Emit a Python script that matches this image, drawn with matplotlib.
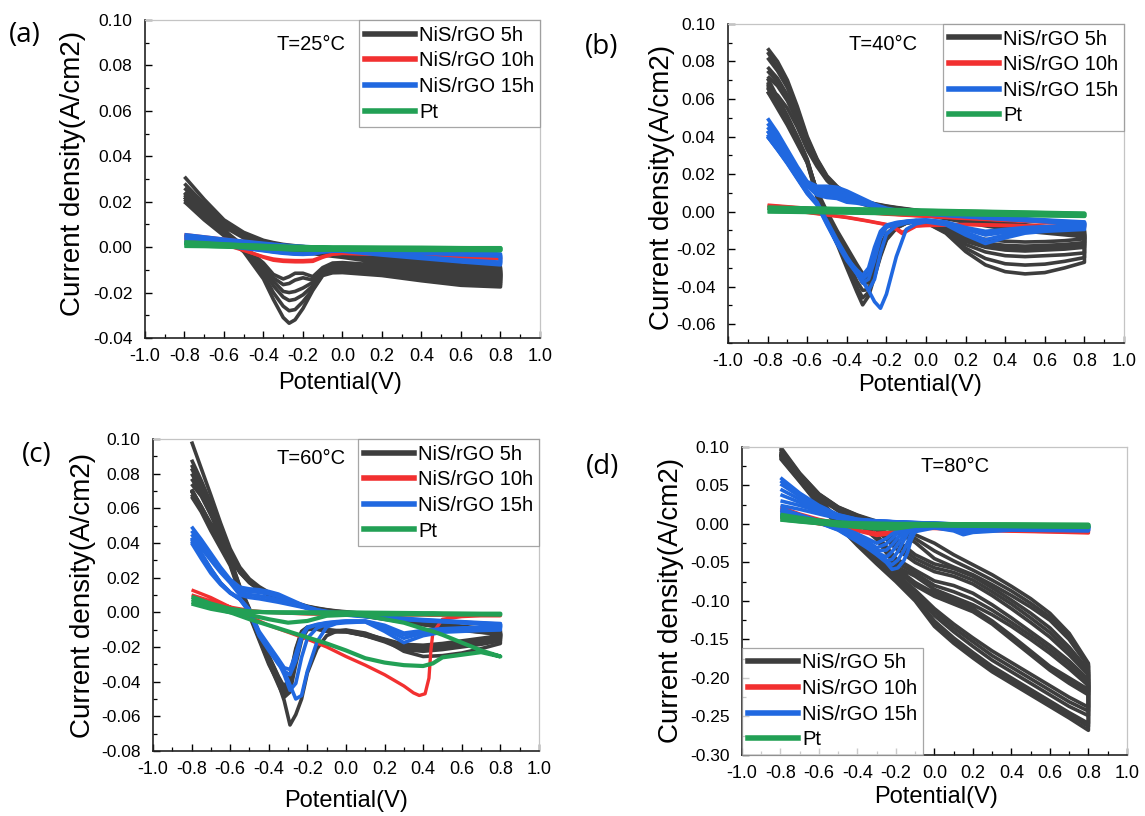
import matplotlib
matplotlib.use("Agg")
import matplotlib.pyplot as plt
from matplotlib.lines import Line2D
from matplotlib.ticker import MultipleLocator, FormatStrFormatter

plt.rcParams['font.family'] = ['Liberation Sans', 'DejaVu Sans']
plt.rcParams['axes.unicode_minus'] = False

# ------------------------------------------------------------------
# CV loops: each cycle = forward sweep (up) and reverse sweep (dn),
# both sampled on the potential grid of that series (V vs A/cm2)
# ------------------------------------------------------------------

# ---- (a) T = 25 C ----
a_x = [-0.8, -0.7, -0.6, -0.5, -0.4, -0.35, -0.3, -0.27, -0.24, -0.2, -0.15, -0.1, -0.05, 0.0, 0.2, 0.4, 0.6, 0.8]
a_dark_up = [
    [0.031, 0.021, 0.012, 0.0065, 0.003, 0.002, 0.0012, 0.0009, 0.0006, 0.0003, -0.0003, -0.001, -0.0015, -0.002, -0.004, -0.006, -0.0078, -0.0088],
    [0.028, 0.019, 0.011, 0.006, 0.0025, 0.0015, 0.0008, 0.0005, 0.0002, -0.0002, -0.0008, -0.0015, -0.002, -0.0025, -0.0048, -0.0068, -0.0085, -0.0095],
    [0.026, 0.018, 0.0105, 0.0055, 0.002, 0.001, 0.0003, 0.0, -0.0003, -0.0007, -0.0013, -0.002, -0.0025, -0.003, -0.0055, -0.0075, -0.0092, -0.0102],
    [0.024, 0.017, 0.010, 0.005, 0.0015, 0.0005, -0.0002, -0.0005, -0.0008, -0.0012, -0.0018, -0.0025, -0.003, -0.0035, -0.006, -0.008, -0.0098, -0.0108],
    [0.022, 0.016, 0.0095, 0.0045, 0.001, 0.0, -0.0007, -0.001, -0.0013, -0.0017, -0.0023, -0.003, -0.0035, -0.004, -0.0065, -0.0086, -0.0104, -0.0114],
    [0.020, 0.015, 0.009, 0.004, 0.0005, -0.0005, -0.0012, -0.0015, -0.0018, -0.0022, -0.0028, -0.0035, -0.004, -0.0045, -0.007, -0.0092, -0.011, -0.012],
]
a_dark_dn = [
    [0.020, 0.012, 0.005, -0.002, -0.014, -0.023, -0.031, -0.0335, -0.032, -0.027, -0.019, -0.0125, -0.0113, -0.0112, -0.0125, -0.0148, -0.0168, -0.0175],
    [0.021, 0.0125, 0.0055, -0.0015, -0.012, -0.020, -0.026, -0.028, -0.0275, -0.024, -0.0185, -0.012, -0.0105, -0.0103, -0.0115, -0.0138, -0.0158, -0.0166],
    [0.022, 0.013, 0.006, -0.001, -0.010, -0.017, -0.022, -0.0235, -0.023, -0.021, -0.017, -0.011, -0.0095, -0.0093, -0.0105, -0.0128, -0.0148, -0.0156],
    [0.022, 0.0135, 0.0065, -0.0005, -0.009, -0.015, -0.0195, -0.020, -0.0195, -0.018, -0.0155, -0.010, -0.0085, -0.0083, -0.0095, -0.0118, -0.0138, -0.0145],
    [0.023, 0.014, 0.007, 0.0, -0.008, -0.0135, -0.0165, -0.016, -0.0145, -0.0135, -0.0145, -0.0095, -0.0078, -0.0075, -0.0088, -0.011, -0.013, -0.0136],
    [0.024, 0.0145, 0.0075, 0.0005, -0.007, -0.012, -0.014, -0.013, -0.0115, -0.0115, -0.013, -0.009, -0.007, -0.0068, -0.008, -0.0102, -0.0122, -0.0128],
]
a_red_up = [
    [0.0055, 0.0045, 0.0035, 0.0025, 0.0015, 0.001, 0.0006, 0.0004, 0.0002, 0.0, -0.0003, -0.0006, -0.0009, -0.0012, -0.002, -0.003, -0.0038, -0.0045],
    [0.005, 0.0042, 0.0032, 0.0022, 0.0012, 0.0008, 0.0004, 0.0002, 0.0, -0.0002, -0.0005, -0.0008, -0.0011, -0.0014, -0.0022, -0.0032, -0.004, -0.0047],
]
a_red_dn = [
    [0.004, 0.003, 0.0015, -0.0012, -0.0045, -0.0058, -0.0063, -0.0064, -0.0065, -0.0065, -0.0063, -0.0045, -0.0032, -0.0028, -0.0032, -0.004, -0.0048, -0.0052],
    [0.0035, 0.0027, 0.0012, -0.0015, -0.0042, -0.0052, -0.0057, -0.0058, -0.0059, -0.0059, -0.0057, -0.0042, -0.003, -0.0027, -0.0031, -0.0039, -0.0046, -0.005],
]
a_blue_up = [
    [0.0055, 0.0045, 0.0035, 0.0026, 0.0017, 0.0013, 0.0009, 0.0007, 0.0005, 0.0003, 0.0001, -0.0001, -0.0003, -0.0005, -0.0012, -0.0018, -0.0024, -0.003],
    [0.0045, 0.0038, 0.003, 0.0022, 0.0014, 0.001, 0.0007, 0.0005, 0.0003, 0.0001, -0.0001, -0.0003, -0.0005, -0.0007, -0.0015, -0.0022, -0.003, -0.0036],
    [0.004, 0.0033, 0.0026, 0.0019, 0.0012, 0.0008, 0.0005, 0.0003, 0.0001, -0.0001, -0.0003, -0.0005, -0.0007, -0.0009, -0.0018, -0.0026, -0.0034, -0.004],
]
a_blue_dn = [
    [0.0025, 0.0018, 0.001, 0.0, -0.0012, -0.0018, -0.0023, -0.0026, -0.0028, -0.003, -0.0028, -0.0022, -0.0018, -0.0018, -0.0035, -0.005, -0.0065, -0.0078],
    [0.002, 0.0014, 0.0007, -0.0003, -0.0014, -0.002, -0.0025, -0.0027, -0.0029, -0.003, -0.0027, -0.0015, -0.0008, -0.0008, -0.003, -0.0045, -0.006, -0.0072],
    [0.0018, 0.0012, 0.0005, -0.0005, -0.0016, -0.0022, -0.0027, -0.0029, -0.0031, -0.0032, -0.003, -0.002, -0.0012, -0.001, -0.0028, -0.0042, -0.0056, -0.0066],
]
a_green_up = [
    [0.0022, 0.0018, 0.0013, 0.0009, 0.0006, 0.0004, 0.0003, 0.0002, 0.0002, 0.0001, 0.0, 0.0, -0.0001, -0.0001, -0.0002, -0.0003, -0.0004, -0.0004],
    [0.0018, 0.0015, 0.0011, 0.0008, 0.0005, 0.0003, 0.0002, 0.0001, 0.0, 0.0, -0.0001, -0.0001, -0.0002, -0.0002, -0.0003, -0.0003, -0.0004, -0.0005],
]
a_green_dn = [
    [0.0008, 0.0006, 0.0003, 0.0, -0.0004, -0.0006, -0.0008, -0.0009, -0.001, -0.001, -0.0011, -0.0011, -0.0011, -0.0011, -0.0011, -0.0012, -0.0012, -0.0012],
    [0.0005, 0.0004, 0.0002, -0.0001, -0.0005, -0.0007, -0.0009, -0.001, -0.0011, -0.0011, -0.0012, -0.0012, -0.0012, -0.0012, -0.0012, -0.0013, -0.0013, -0.0014],
]

# ---- (b) T = 40 C ----
b_x = [-0.8, -0.75, -0.7, -0.65, -0.6, -0.55, -0.5, -0.45, -0.4, -0.35, -0.32, -0.29, -0.26, -0.23, -0.2, -0.15, -0.1, -0.05, 0.0, 0.1, 0.2, 0.3, 0.4, 0.5, 0.6, 0.7, 0.8]
b_dark_up = [
    [0.087, 0.080, 0.070, 0.056, 0.040, 0.028, 0.019, 0.0135, 0.0095, 0.007, 0.006, 0.005, 0.0042, 0.0036, 0.003, 0.0022, 0.0015, 0.0008, 0.0, -0.0015, -0.003, -0.0045, -0.006, -0.007, -0.008, -0.009, -0.010],
    [0.085, 0.077, 0.068, 0.0545, 0.039, 0.0275, 0.0185, 0.0132, 0.0092, 0.0068, 0.0058, 0.0048, 0.004, 0.0034, 0.0028, 0.002, 0.0013, 0.0006, -0.0002, -0.0018, -0.0033, -0.0048, -0.0064, -0.0075, -0.0085, -0.0095, -0.0105],
    [0.082, 0.075, 0.066, 0.053, 0.038, 0.027, 0.018, 0.013, 0.009, 0.0065, 0.0055, 0.0045, 0.0038, 0.0032, 0.0026, 0.0018, 0.0011, 0.0004, -0.0004, -0.002, -0.0036, -0.0052, -0.0068, -0.008, -0.009, -0.010, -0.011],
    [0.077, 0.071, 0.062, 0.050, 0.036, 0.026, 0.0175, 0.0125, 0.0085, 0.006, 0.005, 0.004, 0.0033, 0.0027, 0.0021, 0.0013, 0.0006, -0.0001, -0.0009, -0.0026, -0.0043, -0.006, -0.0076, -0.0088, -0.0098, -0.0108, -0.0118],
    [0.075, 0.069, 0.0605, 0.049, 0.0355, 0.0255, 0.0172, 0.0122, 0.0082, 0.0058, 0.0048, 0.0038, 0.003, 0.0025, 0.0019, 0.0011, 0.0004, -0.0003, -0.0011, -0.0029, -0.0046, -0.0064, -0.008, -0.0092, -0.0102, -0.0112, -0.0122],
    [0.072, 0.067, 0.059, 0.048, 0.035, 0.025, 0.017, 0.012, 0.008, 0.0055, 0.0045, 0.0035, 0.0028, 0.0022, 0.0016, 0.0008, 0.0001, -0.0006, -0.0014, -0.0032, -0.005, -0.0068, -0.0084, -0.0096, -0.0106, -0.0116, -0.0126],
    [0.066, 0.062, 0.055, 0.045, 0.033, 0.024, 0.0165, 0.0115, 0.0075, 0.005, 0.004, 0.003, 0.0023, 0.0017, 0.0011, 0.0003, -0.0004, -0.0011, -0.0019, -0.0038, -0.0057, -0.0076, -0.0092, -0.0104, -0.0114, -0.0124, -0.0134],
]
b_dark_dn = [
    [0.064, 0.055, 0.046, 0.036, 0.026, 0.0075, -0.005, -0.017, -0.030, -0.0426, -0.0497, -0.045, -0.0346, -0.024, -0.0151, -0.0089, -0.0062, -0.0053, -0.0059, -0.0115, -0.0213, -0.0284, -0.032, -0.0332, -0.0325, -0.030, -0.027],
    [0.066, 0.0565, 0.0475, 0.037, 0.0265, 0.008, -0.004, -0.0155, -0.028, -0.040, -0.046, -0.043, -0.034, -0.023, -0.0145, -0.0087, -0.0061, -0.0052, -0.0058, -0.011, -0.0195, -0.025, -0.0278, -0.0285, -0.028, -0.0265, -0.0245],
    [0.068, 0.058, 0.049, 0.038, 0.027, 0.009, -0.003, -0.014, -0.026, -0.037, -0.042, -0.0415, -0.033, -0.0225, -0.014, -0.0085, -0.006, -0.0052, -0.0058, -0.0105, -0.0175, -0.0215, -0.0235, -0.024, -0.0235, -0.023, -0.022],
    [0.071, 0.061, 0.051, 0.040, 0.028, 0.010, -0.002, -0.012, -0.023, -0.033, -0.038, -0.038, -0.031, -0.021, -0.0132, -0.008, -0.0058, -0.005, -0.0056, -0.0098, -0.0158, -0.019, -0.0205, -0.021, -0.0205, -0.020, -0.019],
    [0.069, 0.060, 0.0505, 0.0395, 0.0275, 0.0102, -0.0015, -0.0115, -0.022, -0.0315, -0.0365, -0.0365, -0.030, -0.020, -0.0128, -0.0078, -0.0057, -0.005, -0.0055, -0.0095, -0.015, -0.018, -0.019, -0.0197, -0.0192, -0.0187, -0.0178],
    [0.067, 0.059, 0.05, 0.039, 0.027, 0.0105, -0.001, -0.011, -0.021, -0.030, -0.035, -0.035, -0.029, -0.0195, -0.0125, -0.0077, -0.0056, -0.0049, -0.0055, -0.0092, -0.0142, -0.0168, -0.018, -0.0184, -0.018, -0.0175, -0.0165],
    [0.064, 0.057, 0.048, 0.038, 0.026, 0.011, 0.0, -0.010, -0.019, -0.028, -0.033, -0.033, -0.027, -0.018, -0.0118, -0.0074, -0.0054, -0.0048, -0.0054, -0.0088, -0.0128, -0.0148, -0.0158, -0.0162, -0.016, -0.0155, -0.0145],
]
b_blue_up = [
    [0.0497, 0.042, 0.033, 0.024, 0.016, 0.0135, 0.0135, 0.013, 0.011, 0.0085, 0.007, 0.0055, 0.004, 0.0028, 0.0018, 0.0008, 0.0002, -0.0002, -0.0006, -0.0012, -0.0018, -0.0025, -0.0032, -0.0038, -0.0044, -0.005, -0.0055],
    [0.047, 0.040, 0.031, 0.023, 0.015, 0.012, 0.012, 0.0115, 0.0095, 0.0075, 0.0062, 0.0048, 0.0035, 0.0025, 0.0015, 0.0006, 0.0, -0.0004, -0.0008, -0.0015, -0.0021, -0.0028, -0.0035, -0.0041, -0.0047, -0.0053, -0.0058],
    [0.045, 0.038, 0.030, 0.022, 0.0145, 0.011, 0.0105, 0.010, 0.008, 0.0065, 0.0055, 0.0042, 0.0031, 0.0021, 0.0012, 0.0004, -0.0002, -0.0006, -0.001, -0.0017, -0.0024, -0.0031, -0.0038, -0.0044, -0.005, -0.0056, -0.006],
    [0.043, 0.036, 0.029, 0.021, 0.014, 0.0098, 0.009, 0.0085, 0.0065, 0.0055, 0.0047, 0.0037, 0.0028, 0.0019, 0.001, 0.0002, -0.0004, -0.0008, -0.0012, -0.0019, -0.0026, -0.0033, -0.004, -0.0046, -0.0052, -0.0058, -0.0063],
    [0.041, 0.035, 0.028, 0.0205, 0.0135, 0.0088, 0.0075, 0.007, 0.005, 0.0045, 0.004, 0.0033, 0.0025, 0.0016, 0.0008, 0.0, -0.0006, -0.001, -0.0014, -0.0021, -0.0028, -0.0035, -0.0042, -0.0048, -0.0054, -0.006, -0.0065],
]
b_blue_dn = [
    [0.040, 0.033, 0.026, 0.018, 0.010, 0.004, -0.006, -0.017, -0.026, -0.033, -0.037, -0.042, -0.048, -0.0515, -0.044, -0.024, -0.0095, -0.0065, -0.0055, -0.007, -0.0125, -0.017, -0.014, -0.0115, -0.0105, -0.010, -0.0095],
    [0.043, 0.035, 0.027, 0.019, 0.011, 0.005, -0.005, -0.015, -0.024, -0.032, -0.037, -0.042, -0.036, -0.022, -0.012, -0.0075, -0.006, -0.0055, -0.005, -0.0065, -0.011, -0.015, -0.0125, -0.0105, -0.0098, -0.0093, -0.0088],
    [0.041, 0.034, 0.0265, 0.0185, 0.0105, 0.0045, -0.006, -0.016, -0.025, -0.033, -0.038, -0.036, -0.026, -0.014, -0.0085, -0.0062, -0.0055, -0.005, -0.0048, -0.006, -0.0095, -0.0125, -0.011, -0.0095, -0.009, -0.0085, -0.008],
    [0.040, 0.0335, 0.026, 0.018, 0.010, 0.004, -0.0065, -0.0165, -0.025, -0.032, -0.036, -0.033, -0.022, -0.012, -0.0078, -0.006, -0.0053, -0.0048, -0.0046, -0.0058, -0.009, -0.0115, -0.0102, -0.009, -0.0085, -0.008, -0.0075],
    [0.040, 0.033, 0.0255, 0.0175, 0.0095, 0.0035, -0.007, -0.017, -0.025, -0.031, -0.034, -0.030, -0.019, -0.0105, -0.0072, -0.0058, -0.0051, -0.0046, -0.0044, -0.0055, -0.0085, -0.0105, -0.0095, -0.0085, -0.008, -0.0075, -0.007],
]
b_red_x = [-0.8, -0.6, -0.4, -0.3, -0.2, -0.15, -0.12, -0.08, -0.05, 0.0, 0.2, 0.4, 0.6, 0.8]
b_red_up = [
    [0.0035, 0.0018, 0.0002, -0.0004, -0.0012, -0.0015, -0.0017, -0.0019, -0.0021, -0.0024, -0.0035, -0.0045, -0.0055, -0.0065],
    [0.0032, 0.0016, 0.0, -0.0006, -0.0014, -0.0017, -0.0019, -0.0021, -0.0023, -0.0026, -0.0037, -0.0047, -0.0057, -0.0067],
]
b_red_dn = [
    [0.002, -0.0003, -0.003, -0.0048, -0.0068, -0.0095, -0.0118, -0.0095, -0.0078, -0.0075, -0.007, -0.0075, -0.008, -0.0085],
    [0.0018, -0.0005, -0.0032, -0.005, -0.007, -0.009, -0.011, -0.009, -0.0075, -0.0072, -0.0068, -0.0072, -0.0077, -0.0082],
]
b_green_x = [-0.8, -0.4, 0.0, 0.4, 0.8]
b_green_up = [
    [0.0022, 0.0014, 0.0006, -0.0002, -0.001],
    [0.002, 0.0012, 0.0004, -0.0004, -0.0012],
]
b_green_dn = [
    [0.0, -0.0006, -0.0012, -0.0018, -0.0024],
    [0.0002, -0.0004, -0.001, -0.0016, -0.0022],
]

# ---- (c) T = 60 C ----
c_x = b_x
c_dark_up = [
    [0.0985, 0.083, 0.0675, 0.0515, 0.0367, 0.026, 0.0192, 0.0148, 0.0115, 0.0087, 0.0075, 0.0064, 0.0055, 0.0045, 0.0035, 0.0024, 0.0015, 0.0008, 0.0003, -0.0008, -0.002, -0.0035, -0.005, -0.0065, -0.008, -0.0092, -0.0105],
    [0.088, 0.076, 0.063, 0.049, 0.035, 0.025, 0.0185, 0.0142, 0.011, 0.0083, 0.0071, 0.006, 0.0051, 0.0042, 0.0033, 0.0022, 0.0013, 0.0006, 0.0, -0.0012, -0.0025, -0.004, -0.0056, -0.0072, -0.0088, -0.01, -0.0112],
    [0.085, 0.074, 0.061, 0.047, 0.034, 0.024, 0.018, 0.0138, 0.0106, 0.008, 0.0068, 0.0057, 0.0048, 0.0039, 0.003, 0.0019, 0.001, 0.0003, -0.0003, -0.0016, -0.003, -0.0046, -0.0062, -0.0078, -0.0094, -0.0106, -0.0118],
    [0.083, 0.072, 0.060, 0.0465, 0.0335, 0.0238, 0.0178, 0.0136, 0.0104, 0.0078, 0.0066, 0.0055, 0.0046, 0.0037, 0.0028, 0.0017, 0.0008, 0.0001, -0.0005, -0.0018, -0.0033, -0.0049, -0.0065, -0.0081, -0.0097, -0.0109, -0.0121],
    [0.080, 0.071, 0.059, 0.046, 0.033, 0.0235, 0.0175, 0.0134, 0.0102, 0.0077, 0.0065, 0.0054, 0.0045, 0.0036, 0.0027, 0.0016, 0.0007, 0.0, -0.0006, -0.002, -0.0035, -0.0051, -0.0067, -0.0083, -0.0099, -0.0111, -0.0123],
    [0.077, 0.069, 0.0575, 0.045, 0.0325, 0.0232, 0.0172, 0.0132, 0.01, 0.0076, 0.0063, 0.0052, 0.0043, 0.0034, 0.0025, 0.0014, 0.0005, -0.0002, -0.0008, -0.0022, -0.0038, -0.0054, -0.007, -0.0086, -0.0102, -0.0114, -0.0126],
    [0.074, 0.067, 0.056, 0.044, 0.032, 0.023, 0.017, 0.013, 0.0098, 0.0074, 0.0062, 0.0051, 0.0042, 0.0033, 0.0024, 0.0013, 0.0004, -0.0003, -0.0009, -0.0024, -0.004, -0.0056, -0.0072, -0.0088, -0.0104, -0.0116, -0.0128],
]
c_dark_dn = [
    [0.0667, 0.058, 0.047, 0.037, 0.027, 0.011, -0.002, -0.016, -0.030, -0.041, -0.051, -0.065, -0.059, -0.050, -0.035, -0.021, -0.0135, -0.011, -0.0102, -0.012, -0.016, -0.0225, -0.0255, -0.025, -0.0235, -0.021, -0.018],
    [0.068, 0.059, 0.048, 0.038, 0.028, 0.012, -0.001, -0.015, -0.029, -0.042, -0.049, -0.046, -0.030, -0.016, -0.010, -0.0095, -0.0105, -0.0108, -0.011, -0.0135, -0.017, -0.0215, -0.0225, -0.0215, -0.02, -0.0185, -0.0165],
    [0.070, 0.060, 0.049, 0.039, 0.029, 0.013, 0.0, -0.014, -0.027, -0.040, -0.047, -0.043, -0.026, -0.0135, -0.0095, -0.0098, -0.011, -0.0112, -0.0113, -0.0135, -0.0165, -0.0205, -0.021, -0.020, -0.0185, -0.017, -0.0155],
    [0.0705, 0.0605, 0.0495, 0.0395, 0.0295, 0.0135, 0.0005, -0.0135, -0.0265, -0.039, -0.046, -0.0415, -0.0245, -0.0128, -0.0092, -0.0096, -0.0108, -0.0111, -0.0112, -0.0132, -0.0162, -0.02, -0.0205, -0.0195, -0.018, -0.0165, -0.015],
    [0.071, 0.061, 0.050, 0.040, 0.030, 0.014, 0.001, -0.013, -0.026, -0.038, -0.045, -0.040, -0.023, -0.012, -0.009, -0.0095, -0.0105, -0.011, -0.011, -0.013, -0.016, -0.0195, -0.020, -0.019, -0.0175, -0.016, -0.0145],
    [0.0705, 0.061, 0.0505, 0.0405, 0.0305, 0.0145, 0.0015, -0.0125, -0.0255, -0.0375, -0.044, -0.0385, -0.022, -0.0115, -0.0088, -0.0092, -0.0102, -0.0108, -0.0108, -0.0128, -0.0158, -0.019, -0.0195, -0.0185, -0.017, -0.0155, -0.014],
    [0.070, 0.061, 0.051, 0.041, 0.031, 0.015, 0.002, -0.012, -0.025, -0.037, -0.043, -0.037, -0.021, -0.011, -0.0085, -0.009, -0.010, -0.0105, -0.0105, -0.0125, -0.0155, -0.0185, -0.019, -0.018, -0.0165, -0.015, -0.0135],
]
c_blue_up = [
    [0.0494, 0.042, 0.034, 0.026, 0.019, 0.0145, 0.0135, 0.013, 0.012, 0.0105, 0.009, 0.0075, 0.006, 0.0045, 0.0032, 0.0015, 0.0005, -0.0003, -0.001, -0.002, -0.0028, -0.0035, -0.0042, -0.0048, -0.0054, -0.006, -0.0065],
    [0.047, 0.040, 0.032, 0.025, 0.018, 0.013, 0.012, 0.0115, 0.0105, 0.009, 0.0078, 0.0065, 0.0053, 0.0041, 0.003, 0.0013, 0.0003, -0.0005, -0.0012, -0.0022, -0.003, -0.0038, -0.0045, -0.0051, -0.0057, -0.0063, -0.0068],
    [0.045, 0.038, 0.031, 0.024, 0.0175, 0.0115, 0.0102, 0.0095, 0.0085, 0.0072, 0.0063, 0.0053, 0.0044, 0.0035, 0.0026, 0.0011, 0.0001, -0.0007, -0.0014, -0.0024, -0.0032, -0.004, -0.0047, -0.0053, -0.0059, -0.0065, -0.007],
    [0.043, 0.037, 0.030, 0.023, 0.017, 0.010, 0.0085, 0.0078, 0.0068, 0.0058, 0.0051, 0.0044, 0.0037, 0.003, 0.0022, 0.0009, -0.0001, -0.0009, -0.0016, -0.0026, -0.0034, -0.0042, -0.0049, -0.0055, -0.0061, -0.0067, -0.0072],
]
c_blue_dn = [
    [0.040, 0.031, 0.0225, 0.016, 0.011, 0.0075, 0.0, -0.0135, -0.022, -0.030, -0.034, -0.042, -0.050, -0.048, -0.034, -0.017, -0.0085, -0.0065, -0.006, -0.0055, -0.011, -0.0175, -0.0135, -0.0115, -0.011, -0.0105, -0.0102],
    [0.043, 0.034, 0.025, 0.017, 0.0115, 0.0075, 0.0005, -0.013, -0.021, -0.029, -0.036, -0.045, -0.041, -0.026, -0.015, -0.009, -0.007, -0.006, -0.0055, -0.0055, -0.0095, -0.015, -0.012, -0.0105, -0.01, -0.0095, -0.0092],
    [0.042, 0.034, 0.025, 0.017, 0.0115, 0.0078, 0.001, -0.012, -0.020, -0.028, -0.034, -0.036, -0.028, -0.015, -0.009, -0.0072, -0.0062, -0.0056, -0.0052, -0.0052, -0.008, -0.013, -0.011, -0.0098, -0.0094, -0.009, -0.0087],
    [0.041, 0.033, 0.0245, 0.0168, 0.0112, 0.008, 0.0015, -0.011, -0.019, -0.027, -0.032, -0.033, -0.024, -0.013, -0.0085, -0.007, -0.006, -0.0054, -0.005, -0.005, -0.0075, -0.012, -0.0105, -0.0095, -0.009, -0.0087, -0.0083],
]
c_red_x = [-0.8, -0.7, -0.6, -0.5, -0.4, -0.3, -0.2, -0.1, 0.0, 0.1, 0.2, 0.3, 0.35, 0.38, 0.41, 0.43, 0.44, 0.45, 0.5, 0.6, 0.7, 0.8]
c_red_up = [
    [0.010, 0.0065, 0.003, 0.001, 0.0, -0.0005, -0.001, -0.0012, -0.0014, -0.0015, -0.0015, -0.0016, -0.0016, -0.0016, -0.0016, -0.0017, -0.0017, -0.0017, -0.0017, -0.0017, -0.0018, -0.0018],
]
c_red_dn = [
    [0.0129, 0.0085, 0.003, -0.0025, -0.0075, -0.0115, -0.0155, -0.020, -0.0255, -0.0305, -0.036, -0.0425, -0.0465, -0.048, -0.047, -0.038, -0.022, -0.012, -0.004, -0.0025, -0.002, -0.002],
]
c_green_x = [-0.8, -0.7, -0.6, -0.5, -0.4, -0.3, -0.2, -0.1, 0.0, 0.1, 0.2, 0.3, 0.4, 0.45, 0.5, 0.6, 0.7, 0.8]
c_green_up = [
    [0.009, 0.005, 0.002, 0.0005, 0.0, -0.0003, -0.0005, -0.0007, -0.001, -0.002, -0.004, -0.006, -0.0095, -0.011, -0.013, -0.0175, -0.022, -0.0255],
    [0.0075, 0.004, 0.0015, 0.0003, 0.0, 0.0, 0.0, 0.0, 0.0, -0.0002, -0.0003, -0.0004, -0.0005, -0.0005, -0.0006, -0.0007, -0.0008, -0.0008],
]
c_green_dn = [
    [0.006, 0.003, 0.0, -0.004, -0.0075, -0.011, -0.0145, -0.018, -0.022, -0.0265, -0.029, -0.0305, -0.031, -0.0295, -0.026, -0.0245, -0.023, -0.0255],
    [0.005, 0.002, 0.0, -0.0015, -0.004, -0.006, -0.005, -0.002, -0.0015, -0.0012, -0.0012, -0.0012, -0.0012, -0.0012, -0.0012, -0.0013, -0.0013, -0.0014],
]

# ---- (d) T = 80 C ----
d_x = [-0.8, -0.7, -0.6, -0.5, -0.4, -0.3, -0.2, -0.1, 0.0, 0.1, 0.2, 0.3, 0.4, 0.5, 0.6, 0.7, 0.8]
d_dark_up = [
    [0.100, 0.066, 0.039, 0.022, 0.0115, 0.0035, -0.005, -0.014, -0.025, -0.040, -0.053, -0.066, -0.081, -0.097, -0.116, -0.142, -0.181],
    [0.098, 0.065, 0.0385, 0.0215, 0.011, 0.002, -0.008, -0.019, -0.035, -0.048, -0.060, -0.073, -0.087, -0.103, -0.121, -0.146, -0.183],
    [0.097, 0.064, 0.038, 0.021, 0.010, 0.001, -0.010, -0.024, -0.045, -0.056, -0.066, -0.079, -0.093, -0.108, -0.125, -0.150, -0.185],
    [0.095, 0.063, 0.037, 0.020, 0.008, -0.003, -0.020, -0.040, -0.052, -0.058, -0.068, -0.083, -0.099, -0.116, -0.135, -0.160, -0.190],
    [0.094, 0.0625, 0.0365, 0.0195, 0.007, -0.005, -0.026, -0.045, -0.057, -0.063, -0.073, -0.088, -0.104, -0.122, -0.141, -0.165, -0.193],
    [0.093, 0.062, 0.036, 0.019, 0.006, -0.008, -0.032, -0.050, -0.062, -0.068, -0.078, -0.093, -0.110, -0.128, -0.147, -0.170, -0.196],
    [0.091, 0.061, 0.035, 0.018, 0.004, -0.014, -0.045, -0.060, -0.074, -0.080, -0.090, -0.105, -0.122, -0.140, -0.158, -0.178, -0.202],
    [0.090, 0.0605, 0.0345, 0.0175, 0.003, -0.017, -0.050, -0.064, -0.080, -0.088, -0.098, -0.112, -0.128, -0.145, -0.163, -0.183, -0.206],
    [0.089, 0.060, 0.034, 0.017, 0.002, -0.020, -0.055, -0.068, -0.085, -0.095, -0.105, -0.118, -0.133, -0.150, -0.168, -0.188, -0.210],
]
d_dark_dn = [
    [0.085, 0.055, 0.024, -0.002, -0.028, -0.052, -0.075, -0.100, -0.133, -0.155, -0.174, -0.192, -0.207, -0.222, -0.237, -0.252, -0.268],
    [0.086, 0.056, 0.025, -0.001, -0.026, -0.050, -0.073, -0.098, -0.129, -0.151, -0.170, -0.188, -0.203, -0.218, -0.233, -0.248, -0.263],
    [0.087, 0.057, 0.026, 0.0, -0.025, -0.049, -0.071, -0.095, -0.126, -0.148, -0.167, -0.185, -0.200, -0.215, -0.230, -0.245, -0.259],
    [0.088, 0.058, 0.028, 0.002, -0.023, -0.046, -0.068, -0.091, -0.119, -0.140, -0.159, -0.177, -0.192, -0.207, -0.222, -0.237, -0.249],
    [0.089, 0.059, 0.029, 0.003, -0.021, -0.044, -0.066, -0.088, -0.114, -0.135, -0.153, -0.171, -0.186, -0.201, -0.216, -0.231, -0.243],
    [0.090, 0.060, 0.030, 0.004, -0.020, -0.043, -0.064, -0.086, -0.110, -0.130, -0.148, -0.165, -0.180, -0.195, -0.210, -0.225, -0.238],
    [0.091, 0.061, 0.031, 0.005, -0.018, -0.040, -0.060, -0.080, -0.094, -0.104, -0.114, -0.130, -0.150, -0.170, -0.190, -0.207, -0.222],
    [0.0915, 0.0615, 0.0315, 0.0055, -0.017, -0.039, -0.058, -0.078, -0.092, -0.102, -0.112, -0.128, -0.148, -0.168, -0.188, -0.204, -0.218],
    [0.092, 0.062, 0.032, 0.006, -0.016, -0.038, -0.057, -0.076, -0.090, -0.100, -0.110, -0.126, -0.145, -0.165, -0.185, -0.200, -0.215],
]
d_blue_x = [-0.8, -0.7, -0.6, -0.5, -0.4, -0.35, -0.3, -0.25, -0.22, -0.19, -0.16, -0.14, -0.12, -0.1, 0.0, 0.1, 0.15, 0.2, 0.4, 0.6, 0.8]
d_blue_up = [
    [0.060, 0.040, 0.024, 0.012, 0.006, 0.005, 0.004, 0.0035, 0.003, 0.0027, 0.0024, 0.0022, 0.002, 0.0018, 0.001, 0.0, -0.0005, -0.001, -0.0015, -0.002, -0.0025],
    [0.056, 0.038, 0.023, 0.0115, 0.0058, 0.0048, 0.0039, 0.0034, 0.0029, 0.0026, 0.0023, 0.0021, 0.0019, 0.0017, 0.0009, -0.0001, -0.0006, -0.0011, -0.0016, -0.0021, -0.0026],
    [0.052, 0.036, 0.022, 0.011, 0.0055, 0.0045, 0.0037, 0.0032, 0.0028, 0.0025, 0.0022, 0.002, 0.0018, 0.0016, 0.0008, -0.0002, -0.0007, -0.0012, -0.0017, -0.0022, -0.0027],
    [0.045, 0.032, 0.020, 0.010, 0.005, 0.004, 0.0033, 0.0028, 0.0025, 0.0022, 0.002, 0.0018, 0.0016, 0.0014, 0.0006, -0.0004, -0.0009, -0.0014, -0.0019, -0.0024, -0.0029],
    [0.038, 0.028, 0.018, 0.009, 0.0045, 0.0035, 0.003, 0.0025, 0.0022, 0.002, 0.0018, 0.0016, 0.0014, 0.0012, 0.0004, -0.0006, -0.0011, -0.0016, -0.0021, -0.0026, -0.0031],
    [0.030, 0.024, 0.016, 0.008, 0.004, 0.003, 0.0027, 0.0023, 0.002, 0.0018, 0.0016, 0.0014, 0.0012, 0.001, 0.0002, -0.0008, -0.0013, -0.0018, -0.0023, -0.0028, -0.0033],
    [0.024, 0.019, 0.013, 0.007, 0.0035, 0.0028, 0.0024, 0.002, 0.0018, 0.0016, 0.0014, 0.0012, 0.001, 0.0008, 0.0, -0.001, -0.0015, -0.002, -0.0025, -0.003, -0.0035],
]
d_blue_dn = [
    [0.010, 0.006, 0.0015, -0.008, -0.023, -0.031, -0.040, -0.050, -0.059, -0.057, -0.048, -0.037, -0.020, -0.010, -0.005, -0.009, -0.014, -0.011, -0.008, -0.0085, -0.009],
    [0.011, 0.0065, 0.0018, -0.0075, -0.022, -0.030, -0.039, -0.049, -0.053, -0.047, -0.035, -0.024, -0.012, -0.007, -0.0045, -0.008, -0.0125, -0.010, -0.0075, -0.008, -0.0085],
    [0.012, 0.007, 0.002, -0.007, -0.021, -0.029, -0.038, -0.048, -0.046, -0.036, -0.022, -0.012, -0.007, -0.005, -0.004, -0.007, -0.011, -0.009, -0.007, -0.0075, -0.008],
    [0.014, 0.008, 0.0025, -0.006, -0.019, -0.027, -0.037, -0.043, -0.036, -0.026, -0.015, -0.009, -0.006, -0.004, -0.0035, -0.006, -0.009, -0.0075, -0.006, -0.0065, -0.007],
    [0.016, 0.009, 0.003, -0.005, -0.017, -0.025, -0.035, -0.034, -0.027, -0.018, -0.011, -0.007, -0.005, -0.0035, -0.003, -0.005, -0.0075, -0.0065, -0.005, -0.0055, -0.006],
    [0.018, 0.010, 0.0035, -0.004, -0.015, -0.022, -0.031, -0.026, -0.019, -0.012, -0.008, -0.006, -0.0045, -0.0032, -0.0028, -0.0045, -0.0065, -0.0058, -0.0045, -0.005, -0.0055],
    [0.020, 0.012, 0.004, -0.003, -0.013, -0.019, -0.025, -0.019, -0.013, -0.009, -0.0065, -0.005, -0.004, -0.003, -0.0025, -0.004, -0.0055, -0.005, -0.004, -0.0045, -0.005],
]
d_rg_x = [-0.8, -0.7, -0.6, -0.5, -0.4, -0.3, -0.2, -0.1, 0.0, 0.2, 0.4, 0.6, 0.8]
d_red_up = [
    [0.022, 0.013, 0.006, 0.001, -0.002, -0.003, -0.003, -0.003, -0.004, -0.005, -0.006, -0.007, -0.008],
    [0.018, 0.011, 0.005, 0.0005, -0.002, -0.003, -0.003, -0.003, -0.0035, -0.0045, -0.0055, -0.0065, -0.0075],
]
d_red_dn = [
    [0.009, 0.005, 0.0005, -0.004, -0.009, -0.015, -0.012, -0.006, -0.006, -0.008, -0.0095, -0.0105, -0.0118],
    [0.008, 0.0045, 0.0, -0.004, -0.008, -0.012, -0.010, -0.005, -0.0055, -0.0075, -0.009, -0.010, -0.011],
]
d_green_up = [
    [0.012, 0.008, 0.0045, 0.002, 0.0008, 0.0003, 0.0, 0.0, 0.0, -0.0003, -0.0005, -0.0008, -0.001],
    [0.010, 0.007, 0.004, 0.0018, 0.0006, 0.0002, -0.0001, -0.0001, -0.0002, -0.0005, -0.0007, -0.001, -0.0012],
]
d_green_dn = [
    [0.006, 0.0035, 0.001, -0.002, -0.004, -0.006, -0.006, -0.0025, -0.002, -0.0025, -0.003, -0.0035, -0.004],
    [0.0055, 0.003, 0.0008, -0.0015, -0.003, -0.0045, -0.0045, -0.002, -0.0018, -0.0022, -0.0027, -0.0032, -0.0036],
]

series_names = ["NiS/rGO 5h", "NiS/rGO 10h", "NiS/rGO 15h", "Pt"]
series_colors = ["#3d3d3d", "#f23030", "#2068e0", "#22a055"]
temps = ["T=25°C", "T=40°C", "T=60°C", "T=80°C"]


def draw_cycles(ax, x, ups, dns, color, lw):
    # forward sweep left->right, then reverse sweep right->left
    for up, dn in zip(ups, dns):
        xs = list(x) + list(x)[::-1]
        ys = list(up) + list(dn)[::-1]
        ax.plot(xs, ys, color=color, lw=lw, solid_joinstyle="round", solid_capstyle="butt")


def style_axes(ax, ylim, ymajor, yminor):
    ax.set_xlim(-1.0, 1.0)
    ax.set_ylim(*ylim)
    ax.xaxis.set_major_locator(MultipleLocator(0.2))
    ax.xaxis.set_minor_locator(MultipleLocator(0.1))
    ax.yaxis.set_major_locator(MultipleLocator(ymajor))
    ax.yaxis.set_minor_locator(MultipleLocator(yminor))
    ax.xaxis.set_major_formatter(FormatStrFormatter("%.1f"))
    ax.yaxis.set_major_formatter(FormatStrFormatter("%.2f"))
    ax.tick_params(axis="both", which="major", direction="in", length=5, width=1.0)
    ax.tick_params(axis="both", which="minor", direction="in", length=3, width=0.9)
    ax.tick_params(axis="x", labelsize=13, pad=7)
    ax.tick_params(axis="y", labelsize=12.5, pad=9)
    for side in ("left", "bottom"):
        ax.spines[side].set_color("#222222")
        ax.spines[side].set_linewidth(1.2)
    for side in ("top", "right"):
        ax.spines[side].set_color("#c4c4c4")
        ax.spines[side].set_linewidth(0.9)


fig = plt.figure(figsize=(11.45, 8.16), dpi=100)

panels = [
    dict(pos=[0.1266, 0.5858, 0.345, 0.3897], ylim=(-0.04, 0.10), ymaj=0.02, ymin=0.01,
         series=[(a_x, a_dark_up, a_dark_dn), (a_x, a_red_up, a_red_dn),
                 (a_x, a_blue_up, a_blue_dn), (a_x, a_green_up, a_green_dn)],
         leg="upper right", ylab=(-0.149, 0.519), xlab=(0.494, -0.107),
         letter=("(a)", 25, 35), temp=(311, 44)),
    dict(pos=[0.6358, 0.5797, 0.3459, 0.391], ylim=(-0.07, 0.10), ymaj=0.02, ymin=0.01,
         series=[(b_x, b_dark_up, b_dark_dn), (b_red_x, b_red_up, b_red_dn),
                 (b_x, b_blue_up, b_blue_dn), (b_green_x, b_green_up, b_green_dn)],
         leg="upper right", ylab=(-0.134, 0.489), xlab=(0.485, -0.097),
         letter=("(b)", 602, 47), temp=(883, 44)),
    dict(pos=[0.1336, 0.0797, 0.3371, 0.3824], ylim=(-0.08, 0.10), ymaj=0.02, ymin=0.01,
         series=[(c_x, c_dark_up, c_dark_dn), (c_red_x, c_red_up, c_red_dn),
                 (c_x, c_blue_up, c_blue_dn), (c_green_x, c_green_up, c_green_dn)],
         leg="upper right", ylab=(-0.148, 0.497), xlab=(0.5, -0.125),
         letter=("(c)", 37, 455), temp=(311, 458)),
    dict(pos=[0.6480, 0.0748, 0.3362, 0.3775], ylim=(-0.30, 0.10), ymaj=0.05, ymin=0.025,
         series=[(d_x, d_dark_up, d_dark_dn), (d_rg_x, d_red_up, d_red_dn),
                 (d_blue_x, d_blue_up, d_blue_dn), (d_rg_x, d_green_up, d_green_dn)],
         leg="lower left", ylab=(-0.151, 0.503), xlab=(0.503, -0.10),
         letter=("(d)", 603, 467), temp=(955, 467)),
]

line_widths = [2.6, 2.4, 2.6, 3.0]

for p, temp in zip(panels, temps):
    ax = fig.add_axes(p["pos"])
    for (x, ups, dns), color, lw in zip(p["series"], series_colors, line_widths):
        draw_cycles(ax, x, ups, dns, color, lw)
    style_axes(ax, p["ylim"], p["ymaj"], p["ymin"])

    ax.set_ylabel("Current density(A/cm2)", fontsize=20)
    ax.yaxis.set_label_coords(*p["ylab"])
    ax.set_xlabel("Potential(V)", fontsize=17)
    ax.xaxis.set_label_coords(*p["xlab"])

    handles = [Line2D([], [], color=c, lw=4) for c in series_colors]
    anchor = (1.0, 1.0) if p["leg"] == "upper right" else (0.0, 0.0)
    leg = ax.legend(handles, series_names, loc=p["leg"], bbox_to_anchor=anchor,
                    borderaxespad=0.0, fontsize=14.5, frameon=True, fancybox=False,
                    handlelength=2.5, handletextpad=0.2, labelspacing=0.33,
                    borderpad=0.28)
    leg.get_frame().set_edgecolor("#909090")
    leg.get_frame().set_linewidth(0.9)

    label, lx, ly = p["letter"]
    fig.text(lx / 1145, 1 - ly / 816, label, fontsize=20, family=["Open Sans", "DejaVu Sans"],
             ha="center", va="center")
    tx, ty = p["temp"]
    fig.text(tx / 1145, 1 - ty / 816, temp, fontsize=14.5, ha="center", va="center")

fig.savefig("out.png", dpi=100)
